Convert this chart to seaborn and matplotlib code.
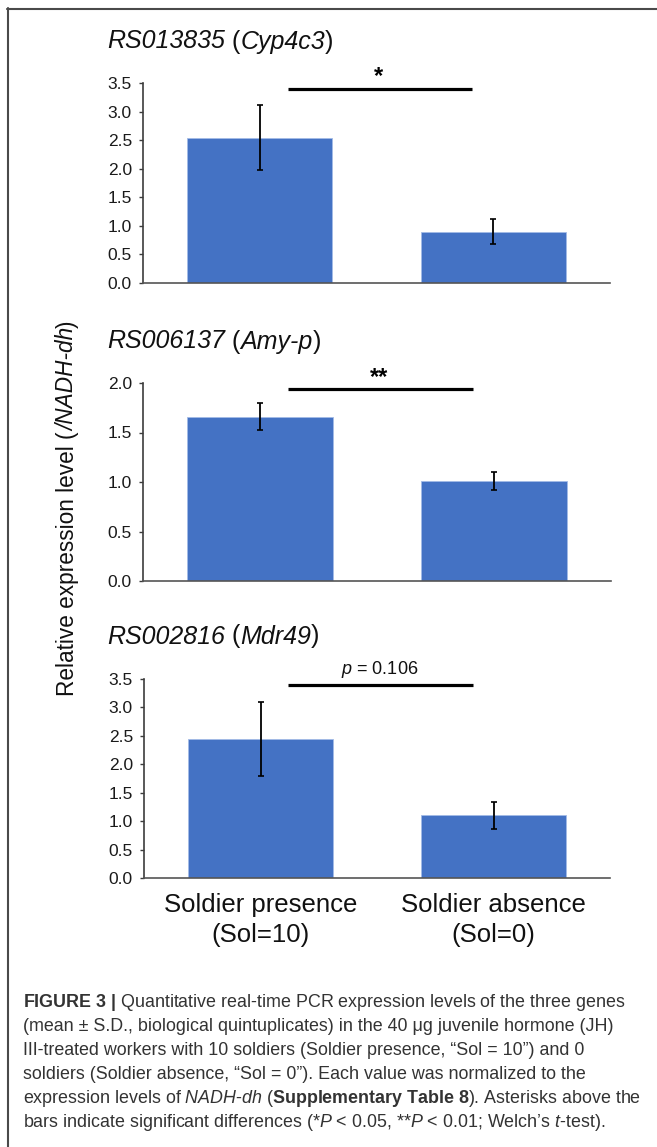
import numpy as np
import pandas as pd
import seaborn as sns
import matplotlib
matplotlib.use("Agg")
import matplotlib.pyplot as plt
from matplotlib.lines import Line2D
from matplotlib.font_manager import FontProperties

# ---------------- data ----------------
conditions = ["Soldier presence\n(Sol=10)", "Soldier absence\n(Sol=0)"]
gene_ids = ["RS013835", "RS006137", "RS002816"]
gene_names = ["Cyp4c3", "Amy-p", "Mdr49"]
cyp4c3_mean = [2.54, 0.90]
cyp4c3_sd = [0.57, 0.22]
amyp_mean = [1.66, 1.01]
amyp_sd = [0.135, 0.09]
mdr49_mean = [2.45, 1.10]
mdr49_sd = [0.65, 0.23]
y_max = [3.5, 2.0, 3.5]
y_step = [0.5, 0.5, 0.5]
sig_labels = ["*", "**", r"$\mathit{p}$ = 0.106"]

means = [cyp4c3_mean, amyp_mean, mdr49_mean]
sds = [cyp4c3_sd, amyp_sd, mdr49_sd]

# ---------------- style ----------------
sns.set_style("white")
FAM = ["Liberation Sans", "DejaVu Sans"]
plt.rcParams["font.family"] = FAM
plt.rcParams["mathtext.fontset"] = "custom"
plt.rcParams["mathtext.rm"] = "Liberation Sans"
plt.rcParams["mathtext.it"] = "Liberation Sans:italic"
plt.rcParams["mathtext.bf"] = "Liberation Sans:bold"

W, H = 657, 1147
fig = plt.figure(figsize=(W / 100, H / 100), dpi=100)
fig.patch.set_facecolor("white")
renderer = fig.canvas.get_renderer()

BAR_COLOR = "#4472C4"
SPINE = "#3c3c3c"


def advance(s, fp):
    w1, _, _ = renderer.get_text_width_height_descent(s + "x", fp, ismath=False)
    w0, _, _ = renderer.get_text_width_height_descent("x", fp, ismath=False)
    return w1 - w0


def draw_runs(x_px, y_px, runs, size, color, vertical=False, center=False):
    """runs: list of (text, style). Positions in pixels from top-left."""
    fps = [FontProperties(family=FAM, style=st, size=size) for _, st in runs]
    advs = [advance(t, fp) for (t, _), fp in zip(runs, fps)]
    total = sum(advs)
    pos = 0.0
    if center:
        pos = -total / 2
    for (t, st), fp, a in zip(runs, fps, advs):
        if vertical:
            xx, yy = x_px, y_px - pos
            rot = 90
        else:
            xx, yy = x_px + pos, y_px
            rot = 0
        fig.text(xx / W, 1 - yy / H, t, fontproperties=fp, color=color,
                 ha="left", va="baseline", rotation=rot,
                 rotation_mode="anchor")
        pos += a


# axes boxes in pixel coords: left, right, top, bottom
boxes = [(143, 610, 83, 283), (143, 611, 383, 581), (144, 610, 679, 878)]
title_baselines = [48.5, 348.5, 643.5]

for i, (l, r, t, b) in enumerate(boxes):
    ax = fig.add_axes([l / W, 1 - b / H, (r - l) / W, (b - t) / H])
    df = pd.DataFrame({"condition": conditions, "value": means[i]})
    sns.barplot(data=df, x="condition", y="value", ax=ax, color=BAR_COLOR,
                width=0.62, errorbar=None, saturation=1,
                edgecolor="#a3bbe6", linewidth=0.6)
    ax.errorbar(x=[0, 1], y=means[i], yerr=sds[i], fmt="none",
                ecolor="black", elinewidth=1.3, capsize=2.2, capthick=1.2,
                zorder=5)
    ax.set_xlim(-0.5, 1.5)
    ax.set_ylim(0, y_max[i])
    ticks = np.arange(0, y_max[i] + 1e-9, y_step[i])
    ax.set_yticks(ticks)
    ax.set_yticklabels([f"{v:.1f}" for v in ticks])
    ax.set_xlabel("")
    ax.set_ylabel("")
    for s in ["top", "right"]:
        ax.spines[s].set_visible(False)
    for s in ["left", "bottom"]:
        ax.spines[s].set_color(SPINE)
        ax.spines[s].set_linewidth(1.2)
    ax.spines["bottom"].set_color("#555555")
    ax.tick_params(axis="y", which="major", direction="out", length=3,
                   width=1.0, color=SPINE, labelsize=12.5, pad=5,
                   labelcolor="#1a1a1a", left=True)
    if i < 2:
        ax.set_xticks([0, 1])
        ax.set_xticklabels(["", ""])
        ax.tick_params(axis="x", length=0)
    else:
        ax.tick_params(axis="x", length=0, labelsize=18.5, pad=11,
                       labelcolor="#111111")
        for lab in ax.get_xticklabels():
            lab.set_linespacing(1.3)
    ax.set_facecolor("white")

    # significance bar
    ym = y_max[i]
    ax.plot([0.12, 0.91], [ym * 0.972, ym * 0.972], color="black", lw=2.3,
            clip_on=False, solid_capstyle="butt", zorder=6)
    if i < 2:
        ax.text(0.51, ym * 1.03, sig_labels[i], ha="center", va="center",
                fontsize=17, fontweight="bold", color="black", clip_on=False)
    else:
        ax.text(0.51, ym * 1.048, sig_labels[i], ha="center", va="center",
                fontsize=13, color="#111111", clip_on=False)

    # panel title
    draw_runs(107, title_baselines[i],
              [(gene_ids[i], "italic"), (" (", "normal"),
               (gene_names[i], "italic"), (")", "normal")],
              size=18, color="#111111")

# shared y label (rotated, centred)
draw_runs(74, 508, [("Relative expression level (", "normal"),
                    ("/NADH-dh", "italic"), (")", "normal")],
          size=16.3, color="#111111", vertical=True, center=True)

# caption
caption = [
    r"$\mathbf{FIGURE\ 3\ |}$ Quantitative real-time PCR expression levels of the three genes",
    "(mean ± S.D., biological quintuplicates) in the 40 μg juvenile hormone (JH)",
    "III-treated workers with 10 soldiers (Soldier presence, “Sol = 10”) and 0",
    "soldiers (Soldier absence, “Sol = 0”). Each value was normalized to the",
    r"expression levels of $\mathit{NADH‐dh}$ ($\mathbf{Supplementary\ Table\ 8}$). Asterisks above the",
    r"bars indicate significant differences (*$\mathit{P}$ < 0.05, **$\mathit{P}$ < 0.01; Welch’s $\mathit{t}$-test).",
]
baselines = [1007, 1031, 1055, 1079, 1103, 1127]
for txt, yb in zip(caption, baselines):
    fig.text(23 / W, 1 - yb / H, txt, ha="left", va="baseline",
             fontsize=12.9, color="#333333")

# frame lines (left and top)
fig.add_artist(Line2D([7.5 / W, 7.5 / W], [1 - 8 / H, 0], transform=fig.transFigure,
                      color="#4a4a4a", lw=1.5))
fig.add_artist(Line2D([7 / W, 1], [1 - 8.5 / H, 1 - 8.5 / H], transform=fig.transFigure,
                      color="#4a4a4a", lw=1.5))

fig.savefig("out.png", dpi=100, facecolor="white")
